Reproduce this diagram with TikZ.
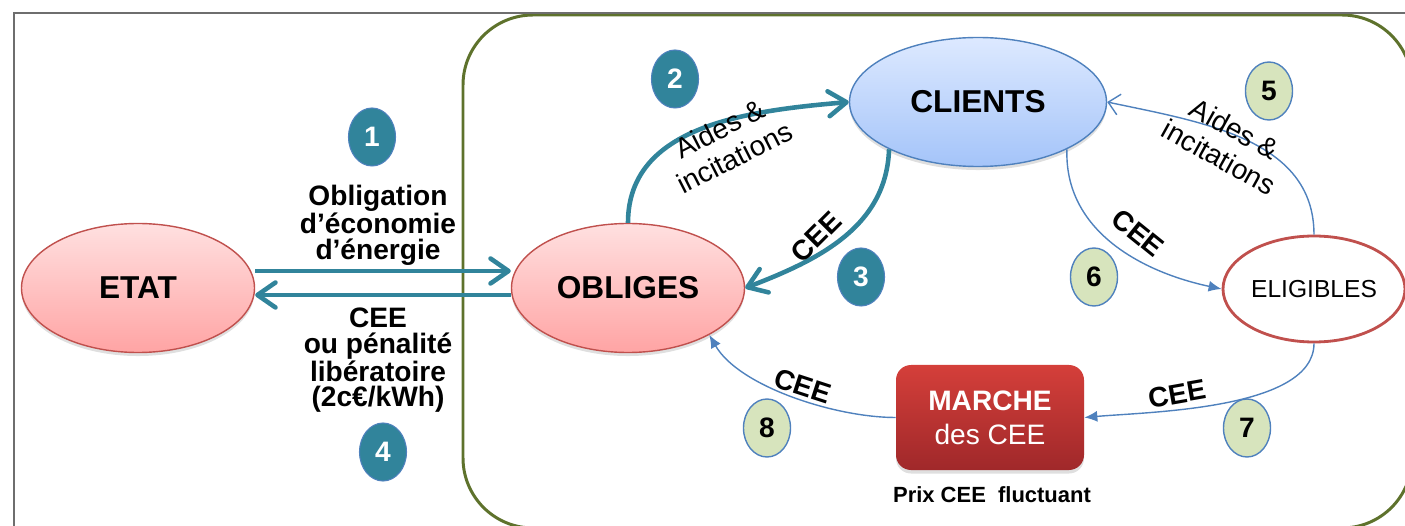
\documentclass[tikz,border=0pt]{standalone}
\usepackage{fontspec}
\setmainfont{Liberation Sans}
\usepackage{tikz}
\usetikzlibrary{arrows.meta,positioning,shapes.geometric,shadows}
\usepackage{xcolor}
\definecolor{tealline}{RGB}{49,132,155}
\definecolor{accentblue}{RGB}{79,129,189}
\definecolor{accentred}{RGB}{192,80,77}
\definecolor{palegreen}{RGB}{215,228,189}
\definecolor{frameolive}{RGB}{94,114,44}
\definecolor{framegray}{RGB}{110,110,110}
\definecolor{pinktop}{RGB}{255,224,224}
\definecolor{pinkbottom}{RGB}{255,164,164}
\definecolor{bluetop}{RGB}{221,233,255}
\definecolor{bluebottom}{RGB}{164,196,249}
\definecolor{markettop}{RGB}{212,63,58}
\definecolor{marketbottom}{RGB}{160,40,42}

\begin{document}
\begin{tikzpicture}[
    actor/.style={ellipse,draw=accentred,line width=0.8pt,top color=pinktop,bottom color=pinkbottom,
      minimum width=4.66cm,minimum height=2.58cm,font=\fontsize{18}{20}\selectfont\bfseries,
      drop shadow={opacity=0.25,shadow xshift=0pt,shadow yshift=-2pt}},
    clientnode/.style={actor,draw=accentblue,top color=bluetop,bottom color=bluebottom,minimum width=5.14cm},
    eligiblenode/.style={ellipse,draw=accentred,line width=1.6pt,fill=white,inner sep=0pt,
      minimum width=3.64cm,minimum height=2.12cm,font=\fontsize{14}{16}\selectfont},
    market/.style={rectangle,rounded corners=0.3cm,top color=markettop,bottom color=marketbottom,
      minimum width=3.76cm,minimum height=2.1cm,text=white,align=center,
      font=\fontsize{16}{19.4}\selectfont,drop shadow={opacity=0.25,shadow xshift=0pt,shadow yshift=-2pt}},
    boldlabel/.style={align=center,font=\fontsize{16}{14.5}\selectfont\bfseries},
    plainlabel/.style={align=center,font=\fontsize{16}{18.5}\selectfont},
    tealbadge/.style={ellipse,draw=accentblue,line width=0.6pt,fill=tealline,text=white,
      minimum width=0.94cm,minimum height=1.16cm,inner sep=0pt,font=\fontsize{16}{16}\selectfont\bfseries},
    greenbadge/.style={tealbadge,fill=palegreen,text=black,line width=0.8pt},
    tealflow/.style={-{Straight Barb[length=3.6mm,width=5mm,round]},draw=tealline,line width=2.6pt},
    thinflow/.style={-{Latex[length=2.6mm,width=2.2mm]},draw=accentblue,line width=0.8pt},
    thinopen/.style={-{Straight Barb[length=2.2mm,width=4.2mm]},draw=accentblue,line width=0.8pt},
    innerframe/.style={draw=frameolive,line width=1.7pt,rounded corners=1.4cm},
    outerframe/.style={draw=framegray,line width=1.1pt}
  ]
    \useasboundingbox (0,0) rectangle (28.1,10.5);

    \draw[innerframe] (9.26,10.2) rectangle (28.24,-0.06);
    \draw[outerframe] (0.28,10.24) rectangle (28.6,-0.6);

    \node[actor] (etat) at (2.76,4.74) {ETAT};
    \node[actor] (obliges) at (12.56,4.74) {OBLIGES};
    \node[clientnode] (clients) at (19.56,8.46) {CLIENTS};
    \node[eligiblenode] (eligibles) at (26.28,4.72) {ELIGIBLES};
    \node[market] (marche) at (19.8,2.15) {\bfseries MARCHE\\des CEE};
    \node[boldlabel,font=\fontsize{12.5}{14}\selectfont\bfseries] (prix) at (19.84,0.6) {Prix CEE\ \ fluctuant};

    \node[boldlabel] (obligation) at (7.56,6.0) {Obligation\\d’économie\\d’énergie};
    \node[boldlabel] (penalite) at (7.56,3.29) {CEE\\ou pénalité\\libératoire\\(2c€/kWh)};

    \draw[tealflow] ([yshift=0.34cm]etat.east) -- ([yshift=0.34cm]obliges.west);
    \draw[tealflow] ([yshift=-0.14cm]obliges.west) -- ([yshift=-0.14cm]etat.east);
    \draw[tealflow] (obliges.north) to[out=90,in=185] (clients.west);
    \draw[tealflow] (clients.208) to[out=-92,in=21] (obliges.east);
    \draw[thinopen] (eligibles.north) to[out=90,in=-12] (clients.east);
    \draw[thinflow] (clients.332) to[out=-92,in=168] (eligibles.west);
    \draw[thinflow] (eligibles.south) to[out=-90,in=5,looseness=0.7] (marche.east);
    \draw[thinflow] (marche.west) to[out=180,in=-60,looseness=0.75] (obliges.330);

    \node[plainlabel,rotate=27] (aides2) at (14.54,7.64) {Aides \&\\incitations};
    \node[boldlabel,rotate=45] (cee3) at (16.32,5.76) {CEE};
    \node[plainlabel,rotate=-29] (aides5) at (24.54,7.64) {Aides \&\\incitations};
    \node[boldlabel,rotate=-39] (cee6) at (22.76,5.84) {CEE};
    \node[boldlabel,rotate=10] (cee7) at (23.54,2.62) {CEE};
    \node[boldlabel,rotate=-18] (cee8) at (16.06,2.78) {CEE};

    \node[tealbadge] (n1) at (7.44,7.76) {1};
    \node[tealbadge] (n2) at (13.5,8.92) {2};
    \node[tealbadge] (n3) at (17.22,4.96) {3};
    \node[tealbadge] (n4) at (7.66,1.46) {4};
    \node[greenbadge] (n5) at (25.38,8.68) {5};
    \node[greenbadge] (n6) at (21.88,4.96) {6};
    \node[greenbadge] (n7) at (24.94,1.94) {7};
    \node[greenbadge] (n8) at (15.34,1.94) {8};
\end{tikzpicture}
\end{document}
